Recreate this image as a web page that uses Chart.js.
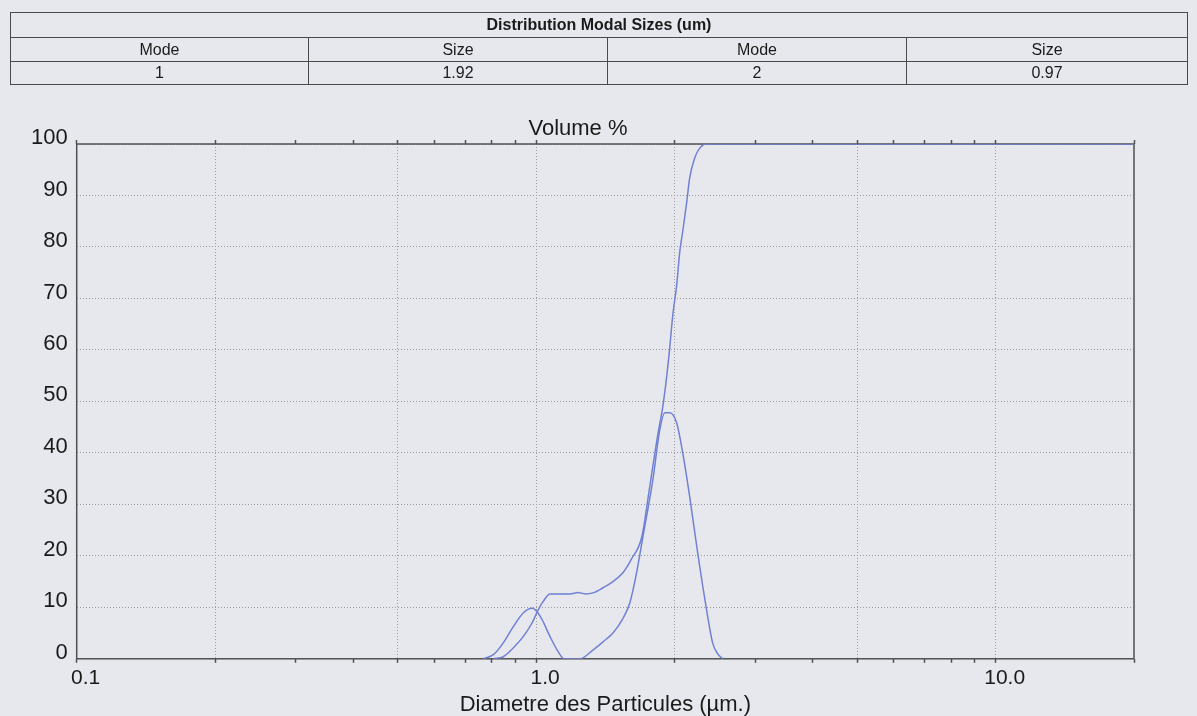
<!DOCTYPE html>
<html>
<head>
<meta charset="utf-8">
<script src="https://cdn.jsdelivr.net/npm/chart.js@4.4.0/dist/chart.umd.min.js"></script>
<style>
  body { margin: 0; background: #e7e8ed; font-family: "Liberation Sans", Arial, sans-serif; }
  #wrap { position: relative; width: 1197px; height: 716px; overflow: hidden; }
  #chart { position: absolute; left: 0; top: 0; }
  table.modal {
    position: absolute; left: 10px; top: 12px; width: 1178px;
    border-collapse: collapse; font-size: 16px; color: #1a1a1a; z-index: 2;
  }
  table.modal td { border: 1.5px solid #4a4a4a; text-align: center; padding: 0; line-height: 20px; }
  table.modal tr.head td { font-weight: bold; height: 24px; }
  table.modal tr.r2 td { height: 23px; }
  table.modal tr.r3 td { height: 22px; }
</style>
</head>
<body>
<div id="wrap">
  <canvas id="chart" width="1197" height="716"></canvas>
  <table class="modal">
    <tr class="head"><td colspan="4">Distribution Modal Sizes (um)</td></tr>
    <tr class="r2"><td style="width:297px">Mode</td><td style="width:298px">Size</td><td style="width:298px">Mode</td><td>Size</td></tr>
    <tr class="r3"><td id="m1"></td><td id="s1"></td><td id="m2"></td><td id="s2"></td></tr>
  </table>
</div>
<script>
// modal table
var modes = [1, 2];
var modeSizes = ['1.92', '0.97'];

// cumulative volume curve (undersize %)
var cumSize = [0.807, 0.848, 0.891, 0.937, 0.980, 1.010, 1.035, 1.072, 1.185, 1.233, 1.277, 1.329, 1.398, 1.469, 1.544, 1.615, 1.698, 1.767, 1.839, 1.886, 1.924, 1.953, 1.983, 2.022, 2.053, 2.084, 2.126, 2.158, 2.213, 2.269, 2.349, 20];
var cumVol  = [0, 0.4, 2.1, 4.3, 7.0, 9.5, 11.1, 12.6, 12.6, 12.9, 12.6, 12.8, 13.8, 15.0, 16.7, 19.5, 23.7, 33.5, 43.5, 49.0, 55.0, 60.5, 66.8, 72.6, 79.0, 83.0, 88.7, 93.4, 97.3, 99.2, 100, 100];

// volume frequency curve (%)
var freqSize = [0.767, 0.807, 0.848, 0.891, 0.937, 0.980, 1.005, 1.030, 1.072, 1.111, 1.150, 1.246, 1.329, 1.398, 1.469, 1.544, 1.599, 1.656, 1.707, 1.794, 1.858, 1.905, 1.953, 2.022, 2.084, 2.158, 2.246, 2.349, 2.421, 2.482, 2.546];
var freqVol  = [0, 0.8, 3.1, 6.2, 8.9, 9.8, 9.1, 7.6, 4.3, 1.7, 0, 0, 1.7, 3.3, 5.0, 7.8, 10.9, 17.0, 23.7, 34.7, 44.5, 47.8, 47.8, 45.8, 40.0, 31.5, 20.6, 9.5, 3.1, 1.0, 0];

// axis ticks
var xTicks = [0.1, 0.2, 0.3, 0.4, 0.5, 0.6, 0.7, 0.8, 0.9, 1, 2, 3, 4, 5, 6, 7, 8, 9, 10, 20];
var xGrid = [0.2, 0.5, 1, 2, 5, 10];
var xLabels = { 0.1: '0.1', 1: '1.0', 10: '10.0' };

document.getElementById('m1').innerText = modes[0];
document.getElementById('s1').innerText = modeSizes[0];
document.getElementById('m2').innerText = modes[1];
document.getElementById('s2').innerText = modeSizes[1];

function pts(xs, ys) {
    return xs.map(function (x, i) { return { x: x, y: ys[i] }; });
}

var lineColor = 'rgb(112,128,212)';
var font = '"Liberation Sans", Arial, sans-serif';

// frame round the plot area
var framePlugin = {
    id: 'frame',
    beforeDatasetsDraw: function (chart) {
        var a = chart.chartArea, c = chart.ctx;
        c.save();
        c.strokeStyle = '#505050';
        c.lineWidth = 1.5;
        c.strokeRect(a.left, a.top, a.right - a.left, a.bottom - a.top);
        c.restore();
    }
};

function setXTicks(scale) {
    scale.ticks = xTicks.map(function (v) { return { value: v }; });
}

var ctx = document.getElementById('chart').getContext('2d');
var chart = new Chart(ctx, {
    type: 'line',
    data: {
        datasets: [{
            label: 'Cumulative',
            data: pts(cumSize, cumVol),
            borderColor: lineColor,
            borderWidth: 1.5,
            pointRadius: 0,
            cubicInterpolationMode: 'monotone',
            fill: false
        }, {
            label: 'Volume',
            data: pts(freqSize, freqVol),
            borderColor: lineColor,
            borderWidth: 1.5,
            pointRadius: 0,
            cubicInterpolationMode: 'monotone',
            fill: false
        }]
    },
    options: {
        responsive: false,
        animation: false,
        layout: { padding: { left: 22, right: 63, top: 118, bottom: 0 } },
        plugins: {
            legend: { display: false },
            tooltip: { enabled: false },
            title: {
                display: true,
                text: 'Volume %',
                color: '#1a1a1a',
                font: { family: font, size: 22, weight: 'normal', lineHeight: 1 },
                padding: { top: 0, bottom: 0 }
            }
        },
        scales: {
            x: {
                type: 'logarithmic',
                position: 'bottom',
                min: 0.1,
                max: 20,
                afterBuildTicks: setXTicks,
                grid: {
                    color: function (c) { return xGrid.indexOf(c.tick.value) >= 0 ? '#9c9c9c' : 'rgba(0,0,0,0)'; },
                    tickColor: '#505050',
                    tickLength: 4,
                    tickWidth: 1.5
                },
                border: { display: false, dash: [1, 2] },
                ticks: {
                    autoSkip: false,
                    maxRotation: 0,
                    labelOffset: 9,
                    padding: 3,
                    color: '#1a1a1a',
                    font: { family: font, size: 21 },
                    callback: function (v) { return xLabels[v] || ''; }
                },
                title: {
                    display: true,
                    text: 'Diametre des Particules (µm.)',
                    color: '#1a1a1a',
                    font: { family: font, size: 22, lineHeight: 1 },
                    padding: { top: 0, bottom: 0 }
                }
            },
            xTop: {
                type: 'logarithmic',
                position: 'top',
                min: 0.1,
                max: 20,
                afterBuildTicks: setXTicks,
                grid: {
                    drawOnChartArea: false,
                    tickColor: '#505050',
                    tickLength: 4,
                    tickWidth: 1.5
                },
                border: { display: false },
                ticks: { display: false, autoSkip: false }
            },
            y: {
                min: 0,
                max: 100,
                ticks: {
                    stepSize: 10,
                    padding: 9,
                    labelOffset: -6,
                    color: '#1a1a1a',
                    font: { family: font, size: 22 }
                },
                grid: { color: '#9c9c9c', drawTicks: false },
                border: { display: false, dash: [1, 2] }
            }
        }
    },
    plugins: [framePlugin]
});
</script>
</body>
</html>
